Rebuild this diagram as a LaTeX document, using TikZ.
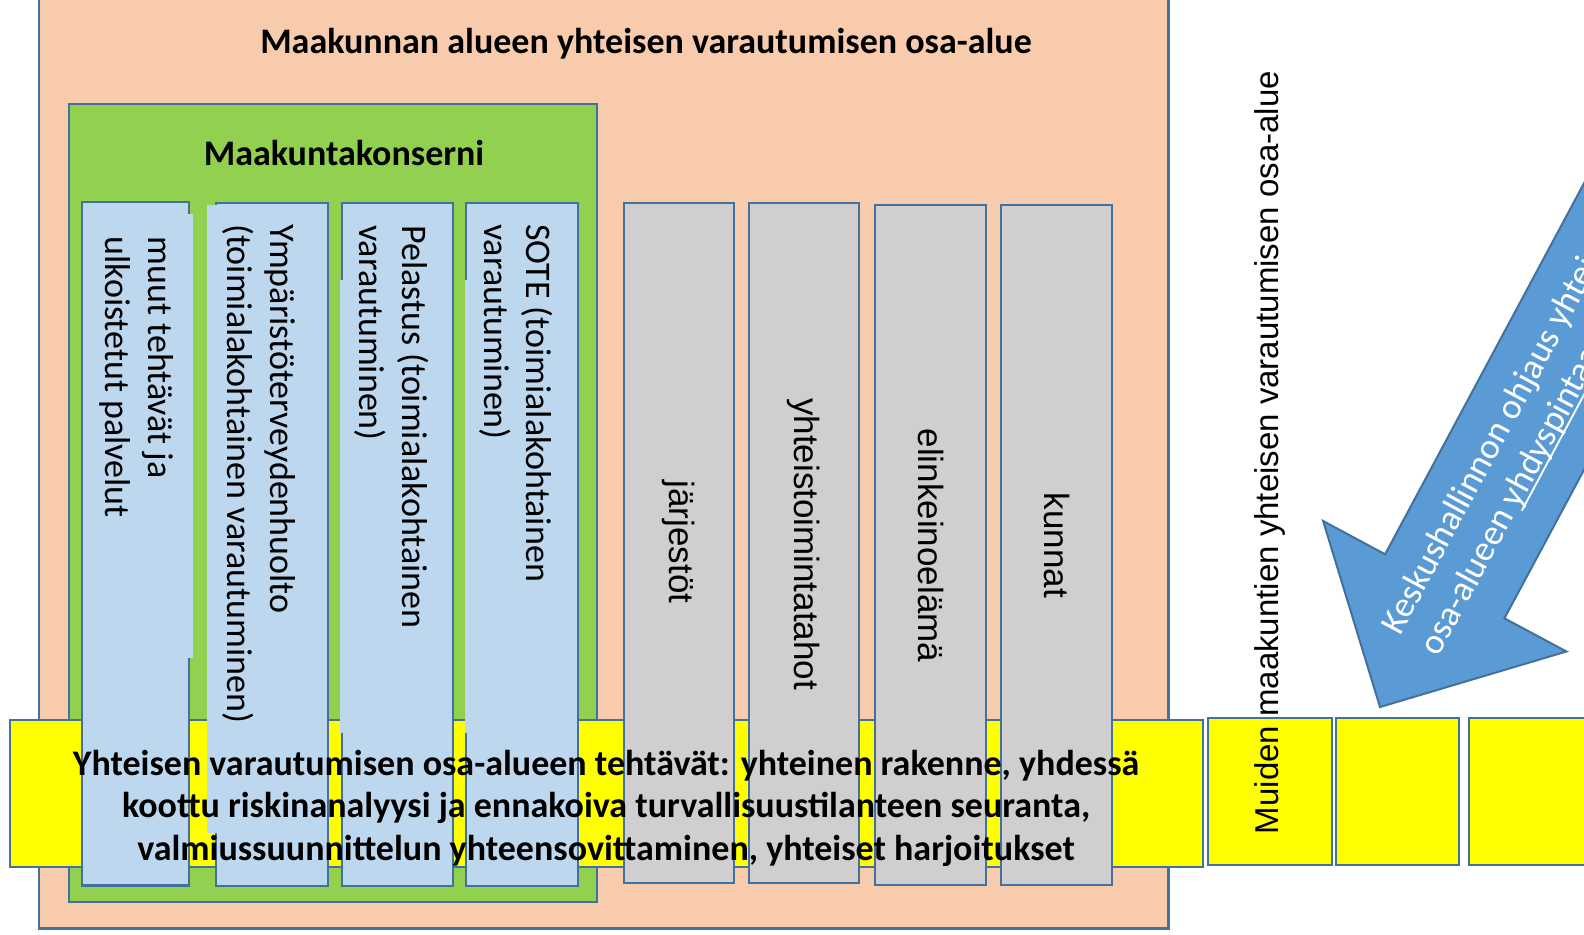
\documentclass[tikz,border=0pt]{standalone}
\usepackage{fontspec}
\setmainfont{Carlito}
\newfontfamily\arialfont{Liberation Sans}
\definecolor{salmon}{HTML}{F8CBAD}
\definecolor{grn}{HTML}{92D050}
\definecolor{lblue}{HTML}{BDD7EE}
\definecolor{lgray}{HTML}{D0CECE}
\definecolor{edgeblue}{HTML}{41719C}
\definecolor{arrowblue}{HTML}{5B9BD5}
\definecolor{yel}{HTML}{FFFF00}
\newcommand\myul[1]{\leavevmode\setbox0\hbox{#1}\rlap{\rule[-4.5pt]{\wd0}{1.8pt}}\box0}
\begin{document}
\begin{tikzpicture}[x=1pt,y=-1pt,
  frame/.style={draw=edgeblue,line width=2.2pt},
  salmonbox/.style={frame,fill=salmon},
  greenbox/.style={frame,fill=grn},
  yellowbox/.style={frame,fill=yel},
  bluebar/.style={frame,fill=lblue},
  graybar/.style={frame,fill=lgray},
  textpatch/.style={fill=lblue},
  titletext/.style={font=\bfseries\fontsize{36}{44}\selectfont,inner sep=0,anchor=base},
  bartext/.style={font=\fontsize{36}{44}\selectfont,inner sep=0,rotate=-90,anchor=base west},
  graytext/.style={font=\arialfont\fontsize{35}{42}\selectfont,inner sep=0,rotate=-90,anchor=center},
  arrowtext/.style={font=\fontsize{36}{44}\selectfont,text=white,inner sep=0,rotate=61.8,anchor=base west},
  bigarrow/.style={draw=edgeblue,line width=2pt,fill=arrowblue,line join=miter}]
\path[use as bounding box] (0,0) rectangle (1584,934);
\clip (0,0) rectangle (1584,934);
\fill[white] (0,0) rectangle (1584,934);

% outer area
\draw[salmonbox] (39,-20) rectangle (1168.5,928.5);
\node[titletext] (maintitle) at (646,54) {Maakunnan alueen yhteisen varautumisen osa-alue};

% maakuntakonserni
\draw[greenbox] (69,104) rectangle (597,902);
\node[titletext] (konserni) at (344,165) {Maakuntakonserni};

% yellow band
\draw[yellowbox] (10,720) rectangle (1203.3,867);

% blue bars
\draw[bluebar] (81.7,202) rectangle (189,885.5);
\fill[textpatch] (83.5,214) rectangle (192.5,658);
\draw[bluebar] (216,202.7) rectangle (328,885.7);
\fill[textpatch] (207,205) rectangle (326.5,833);
\draw[bluebar] (341.7,203) rectangle (453,885.7);
\fill[textpatch] (340.4,280) rectangle (451.5,733);
\draw[bluebar] (466,203) rectangle (578,885.7);
\fill[textpatch] (464.8,280) rectangle (576.5,733);

\node[bartext] (b1a) at (148.5,236.5) {muut tehtävät ja};
\node[bartext] (b1b) at (105.3,236.5) {ulkoistetut palvelut};
\node[bartext] (b2a) at (270.7,224) {Ympäristöterveydenhuolto};
\node[bartext] (b2b) at (227.7,224) {(toimialakohtainen varautuminen)};
\node[bartext] (b3a) at (402.7,225) {Pelastus (toimialakohtainen};
\node[bartext] (b3b) at (359.5,225) {varautuminen)};
\node[bartext] (b4a) at (526.7,224) {SOTE (toimialakohtainen};
\node[bartext] (b4b) at (484,224) {varautuminen)};

% gray bars
\draw[graybar] (624,203) rectangle (734,883);
\draw[graybar] (749,203) rectangle (859,883);
\draw[graybar] (875,205) rectangle (986,885);
\draw[graybar] (1001,205) rectangle (1112,885);
\node[graytext] (g1) at (679,542) {järjestöt};
\node[graytext] (g2) at (804,544) {yhteistoimintatahot};
\node[graytext] (g3) at (930.5,545.5) {elinkeinoelämä};
\node[graytext] (g4) at (1056.5,545.5) {kunnat};

% band text
\node[titletext] (band1) at (606,775) {Yhteisen varautumisen osa-alueen tehtävät: yhteinen rakenne, yhdessä};
\node[titletext] (band2) at (606,817.5) {koottu riskinanalyysi ja ennakoiva turvallisuustilanteen seuranta,};
\node[titletext] (band3) at (606,860) {valmiussuunnittelun yhteensovittaminen, yhteiset harjoitukset};

% other regions
\draw[yellowbox] (1208,718) rectangle (1331.7,865);
\draw[yellowbox] (1335.7,718) rectangle (1459.3,865);
\draw[yellowbox] (1469,718) rectangle (1620,865);
\node[font=\arialfont\fontsize{33}{40}\selectfont,inner sep=0,rotate=90,anchor=base] (muiden) at (1278,452.5) {Muiden maakuntien yhteisen varautumisen osa-alue};

% arrow
\coordinate (tip) at (1380,707);
\coordinate (lb) at (1323.1,521.0);
\coordinate (rb) at (1566.4,651.5);
\coordinate (lj) at (1385.1,554.3);
\coordinate (rj) at (1504.4,618.3);
\coordinate (lt) at (1745.6,-118.2);
\coordinate (rt) at (1865,-54.2);
\draw[bigarrow] (lt) -- (lj) -- (lb) -- (tip) -- (rb) -- (rj) -- (rt) -- cycle;
\node[arrowtext] (arr1) at (1400,637) {Keskushallinnon ohjaus yhteisen varautumisen};
\node[arrowtext] (arr2) at (1438.8,657.8) {osa-alueen \myul{yhdyspintaan}};
\end{tikzpicture}
\end{document}
